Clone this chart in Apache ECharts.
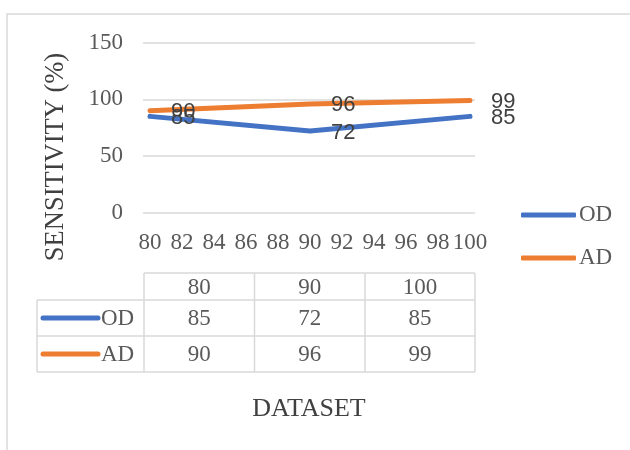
<!DOCTYPE html>
<html>
<head>
<meta charset="utf-8">
<script src="https://cdn.jsdelivr.net/npm/echarts@6/dist/echarts.min.js"></script>
<style>
  html, body { margin: 0; padding: 0; background: #ffffff; }
  #chart { width: 630px; height: 450px; }
</style>
</head>
<body>
<div id="chart"></div>
<script>
// Dataset sizes (x) and sensitivity values (%) per method
const categories = [80, 90, 100];
const seriesNames = ['OD', 'AD'];
const odValues = [85, 72, 85];
const adValues = [90, 96, 99];
const colors = ['#4472C4', '#ED7D31'];

const serif = '"Liberation Serif", "Times New Roman", serif';
const sans = '"Liberation Sans", Arial, sans-serif';
const gridColor = '#d9d9d9';
const textColor = '#595959';

// plot geometry
const plotTop = 42.7, plotHeight = 170;

// data table layout
const tblLeft = 37, tblKeyRight = 144, tblRight = 475;
const rowY = [273, 300, 336, 372];
const colX = [144, 254.5, 365, 475];

const graphics = [];
// outer chart frame
graphics.push({
  type: 'rect', silent: true,
  shape: { x: 7, y: 14, width: 640, height: 460 },
  style: { fill: 'none', stroke: gridColor, lineWidth: 1.5 }
});
// table rules
function hline(y, x1, x2) {
  graphics.push({ type: 'line', silent: true, shape: { x1: x1, y1: y, x2: x2, y2: y },
    style: { stroke: gridColor, lineWidth: 1.5 } });
}
function vline(x, y1, y2) {
  graphics.push({ type: 'line', silent: true, shape: { x1: x, y1: y1, x2: x, y2: y2 },
    style: { stroke: gridColor, lineWidth: 1.5 } });
}
hline(rowY[0], tblKeyRight, tblRight);
hline(rowY[1], tblLeft, tblRight);
hline(rowY[2], tblLeft, tblRight);
hline(rowY[3], tblLeft, tblRight);
vline(tblLeft, rowY[1], rowY[3]);
colX.forEach(function (x) { vline(x, rowY[0], rowY[3]); });

function cellText(txt, cx, cy) {
  graphics.push({ type: 'text', silent: true, x: cx, y: cy,
    style: { text: String(txt), font: '23px ' + serif, fill: textColor,
      textAlign: 'center', textVerticalAlign: 'middle' } });
}
// header row: dataset sizes
categories.forEach(function (c, i) {
  cellText(c, (colX[i] + colX[i + 1]) / 2, (rowY[0] + rowY[1]) / 2 + 1);
});
// body rows: legend key + values
[odValues, adValues].forEach(function (vals, r) {
  const cy = (rowY[r + 1] + rowY[r + 2]) / 2;
  graphics.push({ type: 'line', silent: true,
    shape: { x1: 43, y1: cy, x2: 98, y2: cy },
    style: { stroke: colors[r], lineWidth: 5, lineCap: 'round' } });
  graphics.push({ type: 'text', silent: true, x: 101, y: cy + 1,
    style: { text: seriesNames[r], font: '23px ' + serif, fill: textColor,
      textAlign: 'left', textVerticalAlign: 'middle' } });
  vals.forEach(function (v, i) {
    cellText(v, (colX[i] + colX[i + 1]) / 2, cy + 1);
  });
});
// axis titles
graphics.push({ type: 'text', silent: true, x: 56, y: 157, rotation: Math.PI / 2,
  style: { text: 'SENSITIVITY (%)', font: '26.5px ' + serif, fill: '#404040',
    textAlign: 'center', textVerticalAlign: 'middle' } });
graphics.push({ type: 'text', silent: true, x: 309, y: 409,
  style: { text: 'DATASET', font: '26px ' + serif, fill: '#404040',
    textAlign: 'center', textVerticalAlign: 'middle' } });

function pairs(vals) { return vals.map(function (v, i) { return [categories[i], v]; }); }

const chart = echarts.init(document.getElementById('chart'), null, { renderer: 'canvas' });
chart.setOption({
  animation: false,
  backgroundColor: '#ffffff',
  graphic: graphics,
  grid: [
    { left: 143, top: plotTop, width: 332, height: plotHeight },
    { left: 150, top: plotTop, width: 320, height: plotHeight }
  ],
  xAxis: [
    { gridIndex: 0, type: 'value', min: 0, max: 1, show: false },
    { gridIndex: 1, type: 'value', min: 80, max: 100, interval: 2,
      axisLine: { show: false }, axisTick: { show: false }, splitLine: { show: false },
      axisLabel: { margin: 19, color: textColor, fontFamily: serif, fontSize: 23, hideOverlap: false } }
  ],
  yAxis: [
    { gridIndex: 0, type: 'value', min: 0, max: 150, interval: 50,
      axisLine: { show: false }, axisTick: { show: false },
      splitLine: { lineStyle: { color: gridColor, width: 1.5 } },
      axisLabel: { margin: 20, color: textColor, fontFamily: serif, fontSize: 23 } },
    { gridIndex: 1, type: 'value', min: 0, max: 150, interval: 50, show: false }
  ],
  legend: {
    orient: 'vertical', left: 516, top: 198, itemGap: 19,
    icon: 'roundRect', itemWidth: 55, itemHeight: 5,
    textStyle: { color: textColor, fontFamily: serif, fontSize: 23, lineHeight: 24, padding: [0, 0, 0, -2] },
    data: seriesNames
  },
  series: [odValues, adValues].map(function (vals, s) {
    return {
      name: seriesNames[s], type: 'line', xAxisIndex: 1, yAxisIndex: 1,
      data: pairs(vals), color: colors[s],
      symbol: 'circle', symbolSize: 2, showSymbol: true,
      lineStyle: { width: 5, cap: 'round', join: 'round' },
      label: { show: true, position: 'right', distance: 20, offset: [0, 1.5],
        color: '#404040', fontFamily: sans, fontSize: 22 },
      z: 3 - s
    };
  })
});
</script>
</body>
</html>
